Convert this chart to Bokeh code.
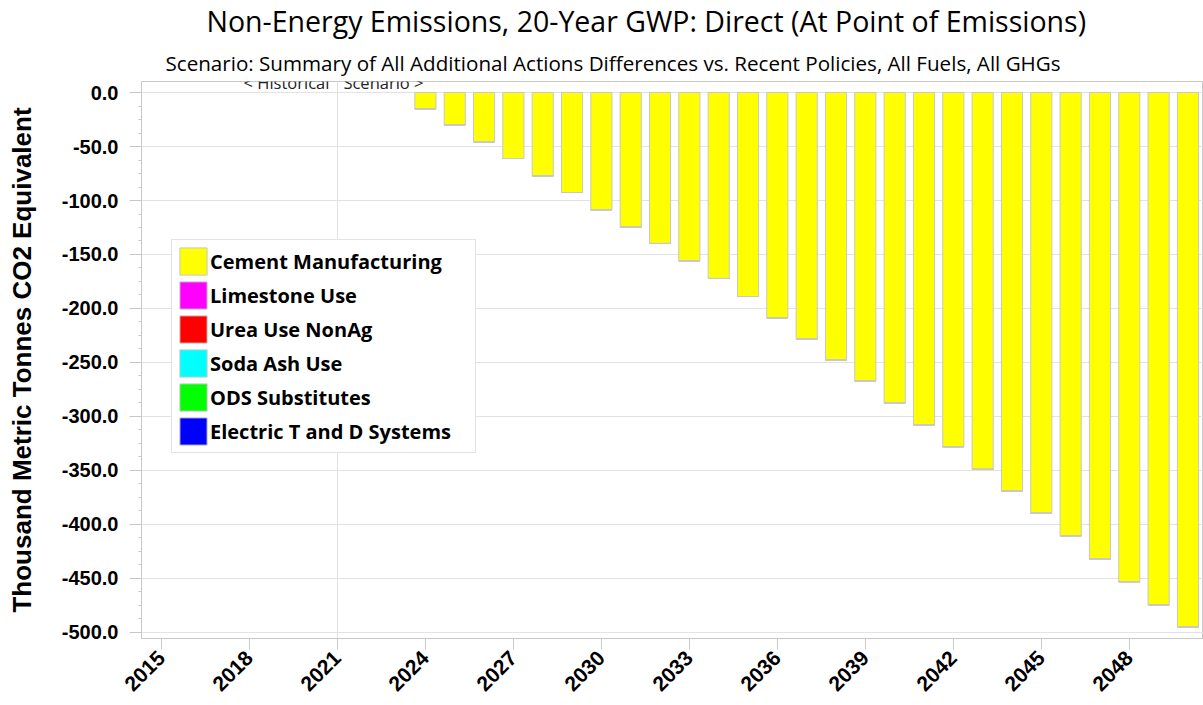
import math
from bokeh.plotting import figure
from bokeh.models import (Range1d, FixedTicker, SingleIntervalTicker, NumeralTickFormatter,
                          Legend, LegendItem, Title, ColumnDataSource)
from bokeh.core.properties import value
from bokeh.embed import file_html
from bokeh.resources import INLINE

# ---- data ----
years = list(range(2024, 2051))
cement_manufacturing = [-15.1, -29.9, -45.6, -61.1, -77.1, -92.6, -108.6, -124.7, -139.8,
                        -155.8, -172.2, -188.9, -208.6, -228.1, -247.8, -267.0, -287.3,
                        -307.7, -328.0, -349.0, -368.8, -389.5, -410.5, -431.8, -453.0,
                        -474.4, -494.7]
limestone_use = [0.0] * len(years)
urea_use_nonag = [0.0] * len(years)
soda_ash_use = [0.0] * len(years)
ods_substitutes = [0.0] * len(years)
electric_t_and_d = [0.0] * len(years)

series_names = ["Cement Manufacturing", "Limestone Use", "Urea Use NonAg",
                "Soda Ash Use", "ODS Substitutes", "Electric T and D Systems"]
series_colors = ["#ffff00", "#ff00ff", "#ff0000", "#00ffff", "#00ff00", "#0000ff"]
x_ticks = [2015, 2018, 2021, 2024, 2027, 2030, 2033, 2036, 2039, 2042, 2045, 2048]
divider_year = 2021

title_text = "Non-Energy Emissions, 20-Year GWP: Direct (At Point of Emissions)"
subtitle_text = ("Scenario: Summary of All Additional Actions Differences vs. Recent Policies, "
                 "All Fuels, All GHGs")
y_label = "Thousand Metric Tonnes CO2 Equivalent"

GRAY = "#c8c8c8"
GRID = "#e2e2e2"

p = figure(width=1203, height=705, output_backend="svg", toolbar_location=None,
           x_range=Range1d(2014.32, 2050.53), y_range=Range1d(-505.6, 10.2),
           min_border_left=141, min_border_top=81, min_border_right=0, min_border_bottom=67)
p.title.visible = False
p.outline_line_color = GRAY
p.background_fill_color = "white"
p.border_fill_color = "white"

data = {"year": years,
        "Cement Manufacturing": cement_manufacturing,
        "Limestone Use": limestone_use,
        "Urea Use NonAg": urea_use_nonag,
        "Soda Ash Use": soda_ash_use,
        "ODS Substitutes": ods_substitutes,
        "Electric T and D Systems": electric_t_and_d}
src = ColumnDataSource(data)
renderers = p.vbar_stack(series_names, x="year", width=0.72, source=src,
                         color=series_colors, line_color=GRAY, line_width=1)
for r, c in zip(renderers, series_colors):
    r.glyph.fill_color = c
    r.glyph.line_color = GRAY

# axes
p.xaxis.ticker = FixedTicker(ticks=x_ticks)
p.xaxis.major_label_orientation = math.pi / 4
p.xaxis.major_label_text_font = "Liberation Sans"
p.xaxis.major_label_text_font_style = "bold"
p.xaxis.major_label_text_font_size = "21px"
p.xaxis.major_label_text_color = "black"
p.xaxis.major_tick_out = 11
p.xaxis.major_tick_in = 0
p.xaxis.minor_tick_out = 0
p.xaxis.minor_tick_in = 0
p.xaxis.axis_line_color = GRAY
p.xaxis.major_tick_line_color = GRAY
p.xaxis.major_label_standoff = 5

p.yaxis.ticker = SingleIntervalTicker(interval=50, num_minor_ticks=4)
p.yaxis.formatter = NumeralTickFormatter(format="0.0")
p.yaxis.major_label_text_font = "Liberation Sans"
p.yaxis.major_label_text_font_style = "bold"
p.yaxis.major_label_text_font_size = "20px"
p.yaxis.major_label_text_color = "black"
p.yaxis.major_tick_out = 12
p.yaxis.major_tick_in = 0
p.yaxis.minor_tick_out = 3
p.yaxis.minor_tick_in = 0
p.yaxis.axis_line_color = GRAY
p.yaxis.major_tick_line_color = GRAY
p.yaxis.minor_tick_line_color = GRAY
p.yaxis.major_label_standoff = 11
p.yaxis.axis_label = y_label
p.yaxis.axis_label_text_font = "Liberation Sans"
p.yaxis.axis_label_text_font_style = "bold"
p.yaxis.axis_label_text_font_size = "26px"
p.yaxis.axis_label_text_color = "black"
p.yaxis.axis_label_standoff = 22

p.ygrid.grid_line_color = GRID
p.xgrid.ticker = FixedTicker(ticks=[divider_year])
p.xgrid.grid_line_color = GRID

# historical / scenario marker (clipped by frame top)
p.text(x=[divider_year], y=[9.6], text=["< Historical"], text_align="right",
       text_baseline="middle", x_offset=-8, text_font=value("Open Sans"),
       text_font_size="16.5px", text_color="#222222")
p.text(x=[divider_year], y=[9.6], text=["Scenario >"], text_align="left",
       text_baseline="middle", x_offset=6, text_font=value("Open Sans"),
       text_font_size="16.5px", text_color="#222222")

# titles (first added sits closest to the frame)
p.add_layout(Title(text=subtitle_text, align="left", offset=24, standoff=10,
                   text_font="Open Sans", text_font_style="normal",
                   text_font_size="20.6px", text_color="black"), "above")
p.add_layout(Title(text=title_text, align="left", offset=65, standoff=0,
                   vertical_align="top",
                   text_font="Open Sans", text_font_style="normal",
                   text_font_size="28.5px", text_color="black"), "above")

# legend
items = [LegendItem(label=n, renderers=[r]) for n, r in zip(series_names, renderers)]
legend = Legend(items=items, location=(30, 185), orientation="vertical",
                glyph_width=34, glyph_height=34, label_height=34, spacing=0,
                padding=4, margin=0, label_standoff=0, label_width=261,
                label_text_font="Open Sans", label_text_font_style="bold",
                label_text_font_size="20px", label_text_color="black",
                border_line_color=GRAY, border_line_width=1.5,
                background_fill_color="white", background_fill_alpha=1.0)
p.add_layout(legend, "center")

open("out.html", "w").write(file_html(p, INLINE))
